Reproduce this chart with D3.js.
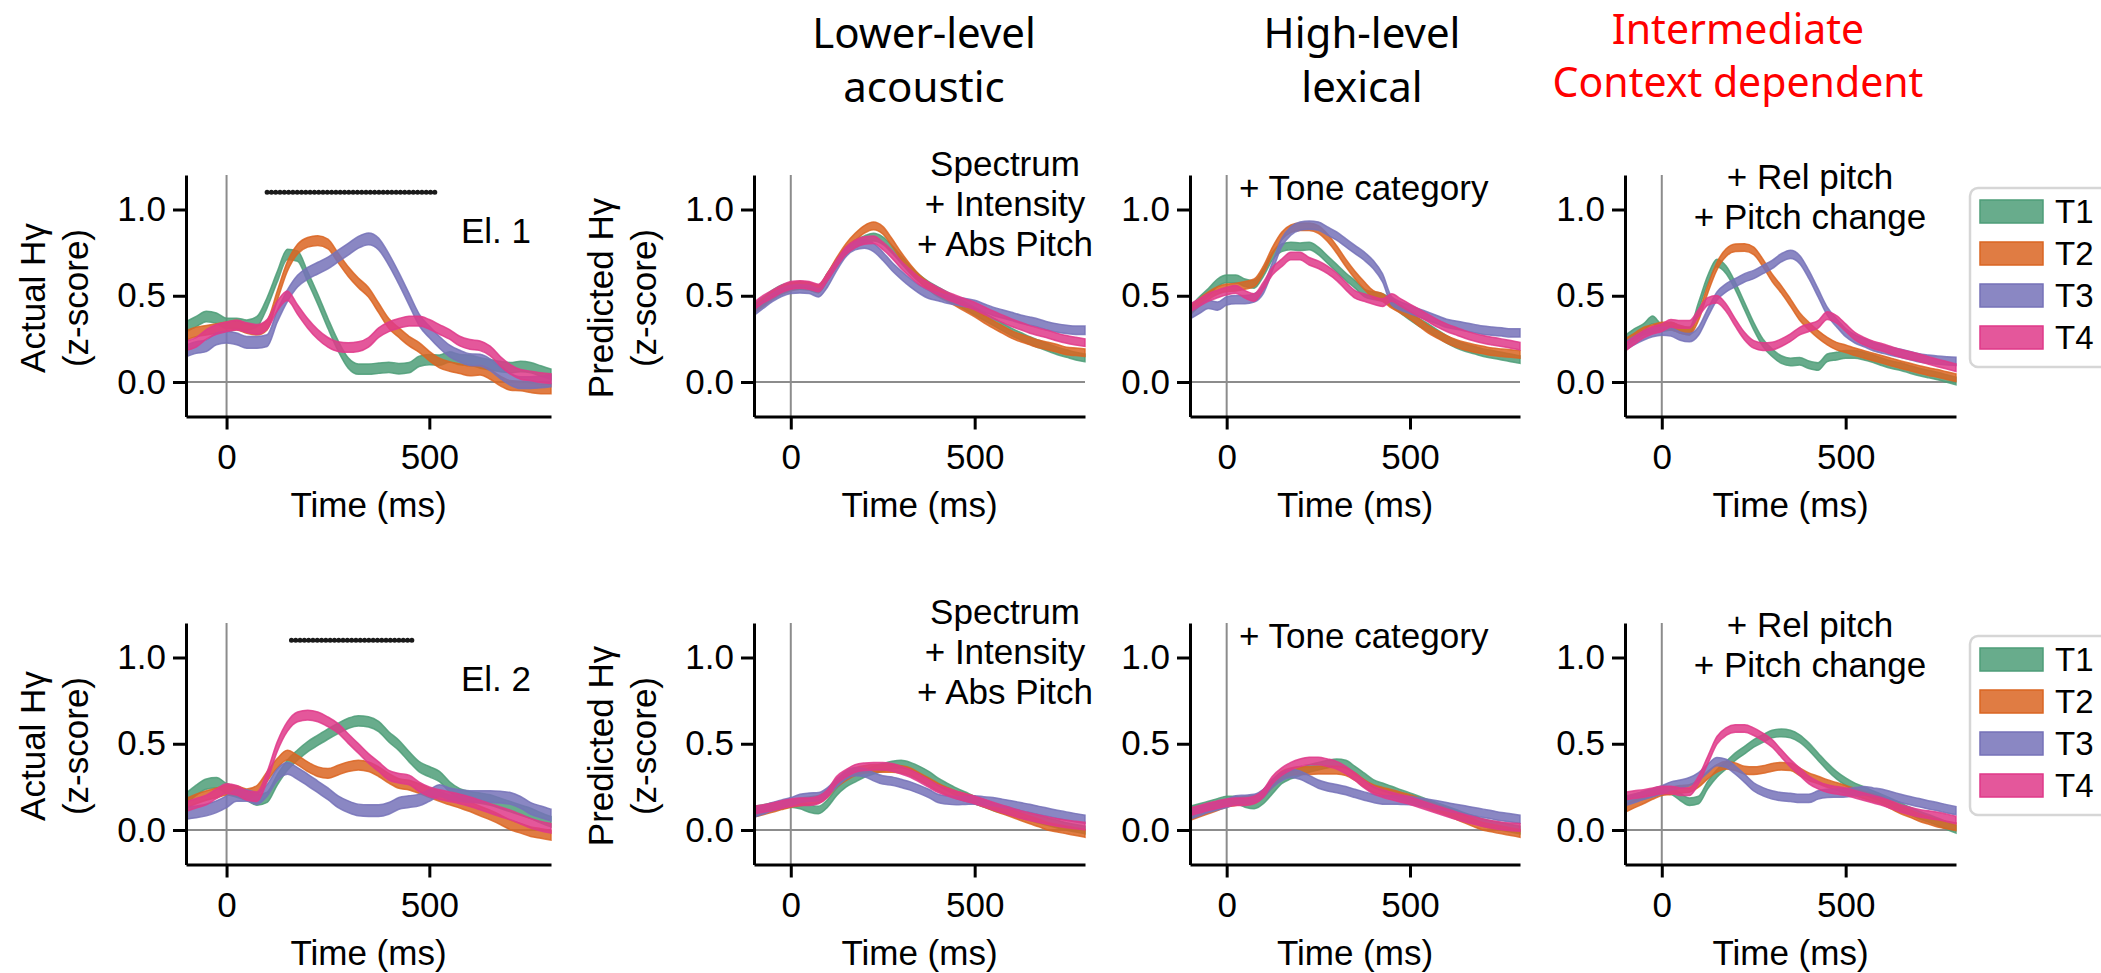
<!DOCTYPE html>
<html>
<head>
<meta charset="utf-8">
<script src="https://cdn.jsdelivr.net/npm/d3@7"></script>
<style>
  body { margin: 0; background: #fff; }
  svg { display: block; font-family: "Liberation Sans", Arial, sans-serif; }
  .axis .domain, .axis .tick line { stroke: #000; stroke-width: 3; }
  .axis text { font-size: 35px; fill: #000; font-family: "Liberation Sans", Arial, sans-serif; }
  .header { font-family: "Noto Sans", sans-serif; font-size: 42px; text-anchor: middle; }
</style>
</head>
<body>
<svg class="chart" width="2101" height="973"></svg>
<script>
  // time axis of every trace (ms)
  var times = [-100,-75,-50,-25,0,25,50,75,100,125,150,175,200,225,250,275,300,325,350,375,400,
               425,450,475,500,525,550,575,600,625,650,675,700,725,750,775,800];
  var tones = ["T1", "T2", "T3", "T4"];
  var colors = ["#4d9d78", "#da6522", "#7572b8", "#df3989"];

  // half width of the shaded band (z-score units)
  var actualSem = [0.03, 0.028, 0.034, 0.028];
  var predictedSem = [0.022, 0.022, 0.024, 0.022];

  // El. 1 (top row)
  var el1Actual = [
    [0.32,0.35,0.38,0.37,0.34,0.34,0.33,0.35,0.46,0.61,0.74,0.73,0.61,0.48,0.34,0.21,0.11,0.075,0.075,0.08,0.085,0.077,0.083,0.12,0.13,0.127,0.145,0.13,0.127,0.11,0.10,0.09,0.083,0.09,0.083,0.064,0.045],
    [0.27,0.29,0.30,0.31,0.32,0.33,0.31,0.30,0.33,0.50,0.67,0.77,0.81,0.82,0.80,0.72,0.64,0.575,0.52,0.43,0.34,0.286,0.237,0.20,0.15,0.11,0.09,0.077,0.064,0.068,0.044,0.006,-0.02,-0.023,-0.033,-0.04,-0.04],
    [0.18,0.20,0.21,0.25,0.26,0.25,0.23,0.23,0.24,0.38,0.50,0.585,0.63,0.66,0.69,0.73,0.77,0.81,0.83,0.80,0.71,0.60,0.48,0.36,0.29,0.23,0.18,0.15,0.13,0.127,0.10,0.054,0.015,-0.004,-0.004,0.0,0.006],
    [0.21,0.23,0.276,0.305,0.32,0.33,0.315,0.305,0.334,0.44,0.50,0.42,0.34,0.276,0.23,0.205,0.20,0.205,0.23,0.286,0.32,0.34,0.353,0.353,0.334,0.305,0.276,0.237,0.218,0.21,0.18,0.12,0.073,0.044,0.035,0.025,0.02]
  ];
  var el1Lower = [
    [0.43,0.47,0.51,0.54,0.555,0.56,0.555,0.54,0.61,0.69,0.76,0.80,0.825,0.84,0.82,0.77,0.71,0.65,0.60,0.56,0.53,0.50,0.47,0.44,0.41,0.38,0.35,0.32,0.29,0.265,0.24,0.22,0.20,0.18,0.165,0.15,0.14],
    [0.42,0.46,0.50,0.53,0.55,0.56,0.555,0.54,0.61,0.70,0.78,0.84,0.885,0.905,0.88,0.81,0.73,0.66,0.60,0.556,0.517,0.49,0.46,0.43,0.40,0.365,0.334,0.305,0.276,0.255,0.237,0.22,0.208,0.195,0.18,0.175,0.17],
    [0.41,0.45,0.49,0.52,0.537,0.54,0.537,0.517,0.575,0.67,0.75,0.79,0.80,0.78,0.73,0.67,0.62,0.575,0.537,0.508,0.495,0.48,0.47,0.46,0.45,0.43,0.41,0.395,0.38,0.365,0.353,0.34,0.324,0.313,0.305,0.30,0.30],
    [0.44,0.48,0.51,0.54,0.56,0.565,0.56,0.545,0.61,0.69,0.76,0.80,0.82,0.825,0.79,0.74,0.68,0.63,0.585,0.556,0.527,0.50,0.48,0.46,0.44,0.415,0.39,0.367,0.344,0.325,0.305,0.29,0.276,0.26,0.247,0.237,0.228]
  ];
  var el1Lexical = [
    [0.41,0.47,0.52,0.575,0.598,0.598,0.575,0.566,0.633,0.73,0.778,0.788,0.784,0.788,0.76,0.71,0.66,0.61,0.566,0.517,0.50,0.49,0.46,0.42,0.38,0.345,0.315,0.28,0.247,0.22,0.20,0.185,0.17,0.16,0.15,0.14,0.13],
    [0.41,0.46,0.50,0.53,0.546,0.55,0.56,0.575,0.65,0.76,0.846,0.888,0.90,0.90,0.884,0.836,0.768,0.69,0.62,0.56,0.508,0.49,0.45,0.42,0.386,0.345,0.305,0.275,0.247,0.225,0.208,0.195,0.185,0.175,0.17,0.165,0.16],
    [0.39,0.42,0.45,0.44,0.47,0.478,0.478,0.488,0.537,0.67,0.807,0.875,0.903,0.91,0.903,0.875,0.846,0.807,0.768,0.73,0.68,0.604,0.47,0.44,0.42,0.40,0.38,0.36,0.34,0.33,0.32,0.31,0.30,0.295,0.29,0.285,0.285],
    [0.43,0.46,0.49,0.51,0.527,0.537,0.508,0.49,0.556,0.643,0.69,0.73,0.73,0.70,0.68,0.65,0.61,0.556,0.508,0.49,0.473,0.46,0.49,0.46,0.43,0.40,0.37,0.34,0.315,0.295,0.276,0.26,0.247,0.237,0.228,0.218,0.208]
  ];
  var el1Context = [
    [0.247,0.286,0.315,0.36,0.315,0.324,0.305,0.295,0.44,0.595,0.69,0.65,0.556,0.44,0.324,0.228,0.17,0.13,0.116,0.12,0.10,0.09,0.14,0.15,0.16,0.16,0.15,0.135,0.116,0.10,0.089,0.073,0.058,0.046,0.035,0.02,0.006],
    [0.228,0.26,0.295,0.31,0.324,0.324,0.305,0.295,0.38,0.537,0.672,0.75,0.778,0.78,0.76,0.69,0.604,0.537,0.46,0.38,0.324,0.276,0.237,0.208,0.193,0.175,0.16,0.145,0.13,0.115,0.10,0.087,0.073,0.06,0.05,0.037,0.025],
    [0.208,0.24,0.266,0.286,0.295,0.29,0.266,0.257,0.295,0.40,0.498,0.546,0.576,0.604,0.623,0.652,0.681,0.72,0.74,0.71,0.623,0.517,0.41,0.344,0.286,0.25,0.228,0.205,0.19,0.178,0.166,0.153,0.14,0.133,0.127,0.123,0.12],
    [0.2,0.24,0.276,0.30,0.315,0.34,0.334,0.334,0.40,0.467,0.48,0.43,0.344,0.266,0.218,0.205,0.208,0.228,0.257,0.295,0.315,0.334,0.385,0.363,0.315,0.266,0.237,0.215,0.2,0.183,0.166,0.153,0.14,0.125,0.11,0.097,0.083]
  ];

  // El. 2 (bottom row)
  var el2Actual = [
    [0.183,0.23,0.266,0.274,0.24,0.22,0.20,0.174,0.19,0.29,0.376,0.434,0.483,0.52,0.556,0.589,0.618,0.633,0.627,0.60,0.54,0.49,0.425,0.367,0.338,0.31,0.25,0.21,0.193,0.185,0.174,0.155,0.135,0.115,0.097,0.07,0.048],
    [0.154,0.18,0.20,0.215,0.23,0.228,0.21,0.23,0.31,0.386,0.434,0.405,0.367,0.338,0.328,0.347,0.367,0.376,0.367,0.338,0.30,0.27,0.26,0.24,0.216,0.195,0.174,0.155,0.135,0.11,0.087,0.06,0.029,0.01,-0.01,-0.02,-0.03],
    [0.097,0.105,0.116,0.135,0.164,0.2,0.2,0.183,0.23,0.32,0.357,0.328,0.29,0.25,0.21,0.164,0.135,0.116,0.112,0.112,0.125,0.154,0.164,0.174,0.20,0.228,0.21,0.20,0.193,0.193,0.193,0.19,0.183,0.16,0.125,0.105,0.087],
    [0.135,0.155,0.174,0.21,0.24,0.23,0.20,0.193,0.31,0.483,0.60,0.656,0.666,0.656,0.627,0.589,0.53,0.473,0.415,0.367,0.318,0.30,0.29,0.25,0.222,0.205,0.193,0.18,0.164,0.145,0.125,0.105,0.087,0.063,0.039,0.022,0.01]
  ];
  var el2Lower = [
    [0.116,0.125,0.135,0.145,0.154,0.145,0.125,0.116,0.154,0.222,0.27,0.30,0.328,0.347,0.363,0.376,0.382,0.37,0.347,0.318,0.28,0.25,0.222,0.198,0.174,0.155,0.135,0.12,0.106,0.09,0.077,0.062,0.048,0.034,0.02,0.01,0.0],
    [0.097,0.11,0.125,0.14,0.154,0.162,0.17,0.178,0.212,0.27,0.309,0.338,0.351,0.357,0.357,0.357,0.351,0.338,0.309,0.28,0.25,0.225,0.203,0.188,0.174,0.155,0.135,0.116,0.097,0.077,0.058,0.04,0.02,0.01,0.0,-0.01,-0.02],
    [0.097,0.116,0.135,0.15,0.164,0.183,0.19,0.193,0.222,0.274,0.318,0.338,0.332,0.309,0.29,0.284,0.27,0.255,0.235,0.212,0.183,0.174,0.17,0.172,0.174,0.169,0.164,0.155,0.145,0.135,0.125,0.113,0.102,0.091,0.081,0.071,0.062],
    [0.116,0.125,0.135,0.147,0.158,0.164,0.164,0.174,0.212,0.29,0.328,0.357,0.367,0.37,0.37,0.363,0.347,0.328,0.30,0.27,0.24,0.22,0.203,0.188,0.174,0.157,0.139,0.122,0.106,0.09,0.077,0.065,0.054,0.044,0.035,0.029,0.023]
  ];
  var el2Lexical = [
    [0.116,0.13,0.145,0.16,0.174,0.174,0.154,0.145,0.174,0.232,0.29,0.318,0.338,0.357,0.37,0.382,0.39,0.382,0.347,0.309,0.27,0.25,0.232,0.212,0.193,0.174,0.154,0.135,0.116,0.097,0.077,0.06,0.042,0.03,0.02,0.01,0.0],
    [0.077,0.097,0.116,0.135,0.154,0.164,0.174,0.178,0.212,0.27,0.318,0.338,0.344,0.344,0.347,0.347,0.347,0.338,0.309,0.27,0.24,0.225,0.212,0.197,0.183,0.164,0.145,0.125,0.106,0.084,0.062,0.04,0.02,0.01,0.0,-0.01,-0.02],
    [0.087,0.106,0.125,0.14,0.154,0.174,0.178,0.183,0.212,0.27,0.309,0.328,0.318,0.293,0.266,0.25,0.24,0.228,0.212,0.197,0.183,0.174,0.174,0.172,0.17,0.162,0.154,0.145,0.135,0.125,0.116,0.106,0.097,0.087,0.077,0.07,0.062],
    [0.106,0.12,0.135,0.147,0.158,0.164,0.164,0.174,0.212,0.29,0.338,0.37,0.39,0.40,0.40,0.39,0.376,0.347,0.309,0.266,0.232,0.212,0.197,0.183,0.17,0.152,0.135,0.117,0.10,0.084,0.068,0.055,0.042,0.032,0.023,0.018,0.015]
  ];
  var el2Context = [
    [0.174,0.187,0.2,0.216,0.232,0.228,0.193,0.164,0.174,0.26,0.328,0.376,0.425,0.463,0.502,0.53,0.556,0.563,0.556,0.53,0.483,0.425,0.367,0.318,0.28,0.25,0.228,0.205,0.183,0.16,0.135,0.11,0.087,0.068,0.048,0.025,0.004],
    [0.125,0.15,0.174,0.2,0.222,0.228,0.236,0.241,0.27,0.318,0.357,0.376,0.367,0.347,0.344,0.351,0.363,0.37,0.367,0.338,0.309,0.29,0.27,0.253,0.236,0.22,0.203,0.187,0.17,0.143,0.116,0.095,0.073,0.056,0.039,0.029,0.019],
    [0.164,0.182,0.2,0.216,0.232,0.255,0.266,0.28,0.309,0.357,0.396,0.386,0.347,0.30,0.25,0.222,0.203,0.193,0.189,0.183,0.183,0.203,0.212,0.214,0.216,0.222,0.228,0.22,0.212,0.198,0.183,0.17,0.158,0.146,0.135,0.123,0.112],
    [0.197,0.205,0.212,0.222,0.232,0.232,0.222,0.222,0.29,0.405,0.52,0.57,0.588,0.588,0.57,0.54,0.502,0.444,0.386,0.338,0.29,0.26,0.24,0.23,0.222,0.207,0.193,0.178,0.164,0.145,0.125,0.11,0.097,0.089,0.081,0.07,0.058]
  ];

  // significant windows (ms) and the level where they are marked
  var el1Sig = [100, 520];
  var el2Sig = [160, 460];
  var sigLevel = 1.1;

  var xDomain = [-100, 800];
  var yDomain = [-0.2, 1.2];
  var xTicks = [0, 500];
  var yTicks = [0, 0.5, 1.0];

  var noteLower = ["Spectrum", "+ Intensity", "+ Abs Pitch"];
  var noteLexical = ["+ Tone category"];
  var noteContext = ["+ Rel pitch", "+ Pitch change"];

  // layout
  var colX = [[186, 551], [754, 1085], [1190, 1520], [1625, 1956]];
  var rowY = [[416.5, 175], [864.5, 623]];
  var rowGap = 448;

  var panels = [
    {row: 0, col: 0, data: el1Actual, sem: actualSem, ylabel: "Actual H\u03b3", sig: el1Sig, tag: "El. 1"},
    {row: 0, col: 1, data: el1Lower, sem: predictedSem, ylabel: "Predicted H\u03b3", note: noteLower},
    {row: 0, col: 2, data: el1Lexical, sem: predictedSem, note: noteLexical},
    {row: 0, col: 3, data: el1Context, sem: predictedSem, note: noteContext, legend: true},
    {row: 1, col: 0, data: el2Actual, sem: actualSem, ylabel: "Actual H\u03b3", sig: el2Sig, tag: "El. 2"},
    {row: 1, col: 1, data: el2Lower, sem: predictedSem, ylabel: "Predicted H\u03b3", note: noteLower},
    {row: 1, col: 2, data: el2Lexical, sem: predictedSem, note: noteLexical},
    {row: 1, col: 3, data: el2Context, sem: predictedSem, note: noteContext, legend: true}
  ];

  // where each annotation block sits in the top row: anchor, x, first baseline
  var notePlace = [null, {anchor: "middle", x: 1005, y: 176},
                   {anchor: "start", x: 1239, y: 200},
                   {anchor: "middle", x: 1810, y: 189}];

  var chart = d3.select(".chart");

  panels.forEach(function(p) {
    var off = p.row * rowGap;
    var x = d3.scaleLinear().domain(xDomain).range(colX[p.col]);
    var y = d3.scaleLinear().domain(yDomain).range(rowY[p.row]);
    var g = chart.append("g");

    // grey reference lines at t = 0 and z = 0
    g.append("line")
      .attr("x1", x(0)).attr("x2", x(0))
      .attr("y1", y(yDomain[0])).attr("y2", y(yDomain[1]))
      .attr("stroke", "#8c8c8c").attr("stroke-width", 2);
    g.append("line")
      .attr("x1", x(xDomain[0])).attr("x2", x(xDomain[1]))
      .attr("y1", y(0)).attr("y2", y(0))
      .attr("stroke", "#8c8c8c").attr("stroke-width", 2);

    p.data.forEach(function(vals, k) {
      var band = d3.area()
        .curve(d3.curveMonotoneX)
        .x(function(d, i) { return x(times[i]); })
        .y0(function(d) { return y(d - p.sem[k]); })
        .y1(function(d) { return y(d + p.sem[k]); });
      g.append("path")
        .datum(vals)
        .attr("d", band)
        .attr("fill", colors[k])
        .attr("fill-opacity", 0.85)
        .attr("stroke", colors[k])
        .attr("stroke-opacity", 0.85)
        .attr("stroke-width", 1.5);
    });

    g.append("g")
      .attr("class", "axis")
      .attr("transform", "translate(0," + rowY[p.row][0] + ")")
      .call(d3.axisBottom(x).tickValues(xTicks).tickSize(13).tickSizeOuter(0).tickPadding(15));
    g.append("g")
      .attr("class", "axis")
      .attr("transform", "translate(" + colX[p.col][0] + ",0)")
      .call(d3.axisLeft(y).tickValues(yTicks).tickFormat(d3.format(".1f"))
        .tickSize(13).tickSizeOuter(0).tickPadding(7));

    // x label
    g.append("text")
      .attr("x", (colX[p.col][0] + colX[p.col][1]) / 2)
      .attr("y", 517 + off)
      .attr("text-anchor", "middle")
      .style("font-size", "35px")
      .text("Time (ms)");

    if (p.ylabel) {
      var yc = 298 + off;
      g.append("text")
        .attr("transform", "translate(" + (colX[p.col][0] - 141) + "," + yc + ") rotate(-90)")
        .attr("text-anchor", "middle")
        .style("font-size", "35px")
        .text(p.ylabel);
      g.append("text")
        .attr("transform", "translate(" + (colX[p.col][0] - 98) + "," + yc + ") rotate(-90)")
        .attr("text-anchor", "middle")
        .style("font-size", "35px")
        .text("(z-score)");
    }

    if (p.sig) {
      g.append("line")
        .attr("x1", x(p.sig[0])).attr("x2", x(p.sig[1]))
        .attr("y1", y(sigLevel)).attr("y2", y(sigLevel))
        .attr("stroke", "#1a1a1a")
        .attr("stroke-width", 5)
        .attr("stroke-linecap", "round")
        .attr("stroke-dasharray", "0 4.3");
    }

    if (p.tag) {
      g.append("text")
        .attr("x", 531).attr("y", 243 + off)
        .attr("text-anchor", "end")
        .style("font-size", "35px")
        .text(p.tag);
    }

    if (p.note) {
      var place = notePlace[p.col];
      p.note.forEach(function(line, i) {
        g.append("text")
          .attr("x", place.x)
          .attr("y", place.y + off + i * 40)
          .attr("text-anchor", place.anchor)
          .style("font-size", "35px")
          .text(line);
      });
    }

    if (p.legend) {
      var lg = chart.append("g").attr("transform", "translate(1970," + (188 + off) + ")");
      lg.append("rect")
        .attr("x", 0).attr("y", 0)
        .attr("width", 170).attr("height", 179)
        .attr("rx", 8)
        .attr("fill", "#fff")
        .attr("stroke", "#d6d6d6")
        .attr("stroke-width", 2.5);
      tones.forEach(function(t, k) {
        lg.append("rect")
          .attr("x", 10).attr("y", 12 + k * 42)
          .attr("width", 63).attr("height", 23)
          .attr("fill", colors[k]).attr("fill-opacity", 0.85)
          .attr("stroke", colors[k]).attr("stroke-width", 1.5);
        lg.append("text")
          .attr("x", 85).attr("y", 35 + k * 42)
          .style("font-size", "33px")
          .text(t);
      });
    }
  });

  // column headers
  var headers = [
    {lines: ["Lower-level", "acoustic"], x: 924, y: [48, 102], size: 42, color: "#000"},
    {lines: ["High-level", "lexical"], x: 1362, y: [48, 102], size: 42, color: "#000"},
    {lines: ["Intermediate", "Context dependent"], x: 1738, y: [44, 97], size: 41, color: "#ff0000"}
  ];
  headers.forEach(function(h) {
    h.lines.forEach(function(line, i) {
      chart.append("text")
        .attr("class", "header")
        .attr("x", h.x).attr("y", h.y[i])
        .attr("fill", h.color)
        .style("font-size", h.size + "px")
        .text(line);
    });
  });
</script>
</body>
</html>
